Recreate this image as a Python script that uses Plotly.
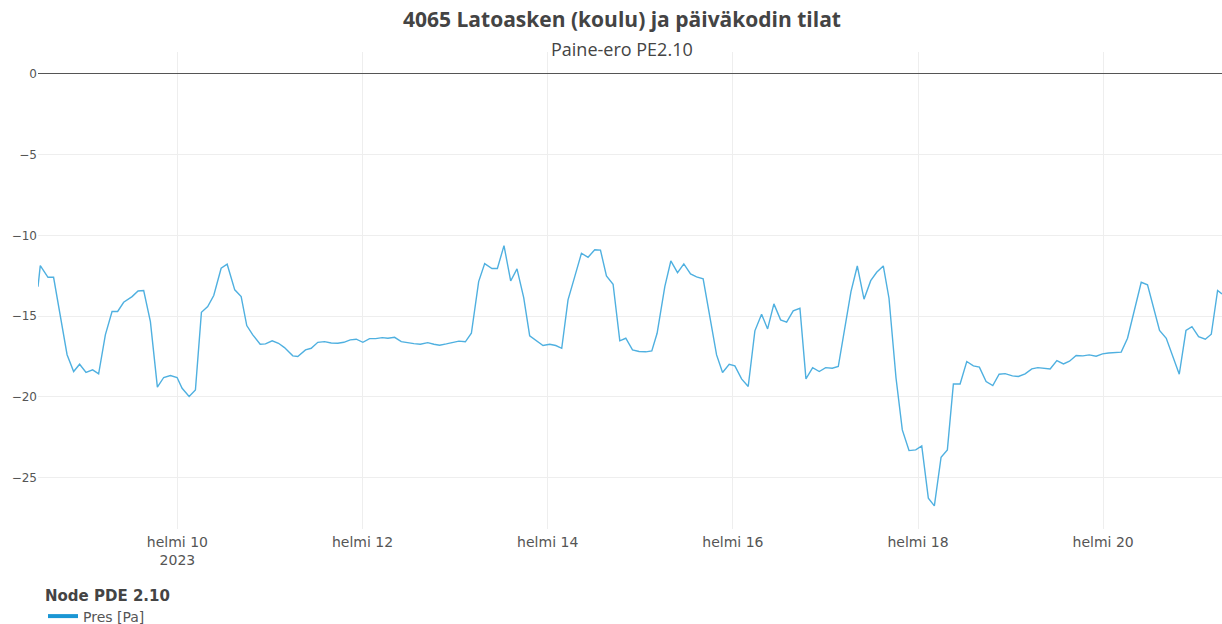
import pandas as pd
import plotly.graph_objects as go

# hours since 2023-02-08 00:00
hours = [11.86, 12.45, 14.45, 15.9, 19.4, 21.1, 22.65, 24.31, 26.02, 27.58, 29.32, 31.06, 32.51, 34.07, 36.25,
         37.8, 39.26, 41.0, 42.81, 44.45, 46.18, 47.92, 49.22, 51.04, 52.67, 54.23, 55.86, 57.42, 59.34, 60.9,
         62.87, 64.53, 65.98, 67.54, 69.46, 70.83, 72.57, 74.21, 75.76, 77.92, 79.21, 81.21, 82.69, 84.4, 86.14,
         87.88, 89.59, 91.15, 92.81, 94.37, 96.08, 97.82, 99.38, 101.11, 102.57, 104.31, 106.04, 107.76, 109.31,
         110.97, 112.9, 114.5, 115.98, 117.72, 119.43, 120.99, 122.65, 124.21, 126.1, 127.66, 129.55, 130.95,
         132.67, 134.4, 136.04, 137.78, 139.33, 141.07, 142.78, 144.52, 146.08, 147.64, 149.27, 151.01, 152.75,
         154.46, 156.2, 157.68, 159.23, 160.95, 162.69, 164.24, 165.98, 167.69, 169.43, 170.99, 172.36, 174.36,
         175.92, 177.66, 179.29, 181.03, 182.59, 184.3, 185.86, 187.78, 189.33, 191.05, 192.52, 194.26, 195.98,
         197.71, 199.45, 201.01, 202.64, 204.38, 205.94, 207.65, 209.39, 210.95, 212.69, 214.4, 216.06, 217.77,
         219.33, 221.07, 222.62, 224.26, 226.0, 227.74, 229.29, 231.0, 232.48, 234.3, 235.93, 237.67, 239.41,
         240.97, 242.68, 244.24, 245.98, 247.61, 249.17, 250.91, 252.64, 254.36, 255.91, 257.65, 259.39, 261.03,
         262.58, 264.48, 266.03, 267.77, 269.51, 271.07, 272.78, 274.26, 276.0, 277.71, 279.27, 281.0, 282.74,
         284.38, 286.19, 287.83, 289.39, 291.12, 292.68, 294.32, 296.13, 297.87, 299.5, 301.06, 302.62, 304.36,
         305.99, 307.73, 309.47, 311.02, 312.74, 314.48, 316.03, 317.67, 318.81]

pres = [-13.18, -11.88, -12.6, -12.6, -17.4, -18.44, -17.99, -18.5, -18.34, -18.59, -16.17, -14.72, -14.72,
        -14.15, -13.8, -13.45, -13.42, -15.35, -19.41, -18.81, -18.69, -18.81, -19.48, -19.99, -19.58, -14.77,
        -14.42, -13.73, -12.04, -11.79, -13.38, -13.8, -15.59, -16.17, -16.75, -16.73, -16.54, -16.69, -16.96,
        -17.47, -17.51, -17.1, -17.0, -16.63, -16.59, -16.67, -16.69, -16.63, -16.48, -16.44, -16.63, -16.4,
        -16.4, -16.34, -16.38, -16.32, -16.59, -16.67, -16.71, -16.75, -16.65, -16.75, -16.81, -16.73, -16.63,
        -16.56, -16.6, -16.07, -12.87, -11.75, -12.06, -12.06, -10.64, -12.83, -12.08, -13.86, -16.23, -16.54,
        -16.83, -16.75, -16.83, -17.0, -14.0, -12.56, -11.11, -11.36, -10.9, -10.92, -12.52, -13.03, -16.54,
        -16.38, -17.1, -17.2, -17.22, -17.16, -16.07, -13.18, -11.59, -12.31, -11.77, -12.39, -12.58, -12.7,
        -14.93, -17.41, -18.5, -17.99, -18.09, -18.9, -19.37, -15.92, -14.89, -15.8, -14.25, -15.24, -15.38,
        -14.68, -14.52, -18.9, -18.2, -18.44, -18.2, -18.24, -18.13, -15.55, -13.49, -11.9, -13.96, -12.81,
        -12.29, -11.9, -13.9, -18.84, -22.06, -23.34, -23.3, -23.05, -26.29, -26.77, -23.75, -23.3, -19.21,
        -19.21, -17.82, -18.09, -18.17, -19.06, -19.31, -18.61, -18.57, -18.71, -18.75, -18.59, -18.28, -18.2,
        -18.26, -18.28, -17.76, -17.97, -17.8, -17.45, -17.47, -17.41, -17.49, -17.35, -17.29, -17.27, -17.24,
        -16.38, -14.52, -12.91, -13.07, -14.52, -15.9, -16.38, -17.51, -18.61, -15.9, -15.66, -16.28, -16.44,
        -16.13, -13.42, -13.63]

tick_dates = ["2023-02-10", "2023-02-12", "2023-02-14", "2023-02-16", "2023-02-18", "2023-02-20"]
tick_labels = ["helmi 10<br>2023", "helmi 12", "helmi 14", "helmi 16", "helmi 18", "helmi 20"]
y_ticks = [0, -5, -10, -15, -20, -25]

title_text = "4065 Latoasken (koulu) ja päiväkodin tilat"
subtitle_text = "Paine-ero PE2.10"
legend_title = "Node PDE 2.10"
series_name = "Pres [Pa]"

start = pd.Timestamp("2023-02-08 00:00")
times = [start + pd.Timedelta(hours=h) for h in hours]

LINE = "#4fb0e0"
fig = go.Figure()
fig.add_trace(go.Scatter(x=times, y=pres, mode="lines", name=series_name,
                         line=dict(color=LINE, width=1.4), showlegend=False,
                         legendgroup="p"))
fig.add_trace(go.Scatter(x=[None], y=[None], mode="lines", name=series_name,
                         line=dict(color="#1a96d4", width=4), legendgroup="p",
                         showlegend=True))

fig.update_layout(
    width=1222, height=624,
    margin=dict(l=38, r=0, t=52, b=95, autoexpand=False),
    paper_bgcolor="white", plot_bgcolor="white",
    font=dict(family="DejaVu Sans", size=12, color="#555"),
    title=dict(text="<b>" + title_text + "</b>", x=622 / 1222, xref="container", xanchor="center",
               y=1 - 20 / 624, yref="container", yanchor="middle",
               font=dict(family="Open Sans", size=21, color="#444")),
    annotations=[dict(text=subtitle_text, xref="paper", yref="paper",
                      x=(622 - 38) / (1222 - 38), y=1 + (52 - 49) / 477,
                      xanchor="center", yanchor="middle", showarrow=False,
                      font=dict(family="Open Sans", size=18, color="#444"))],
    xaxis=dict(range=[times[0], times[-1]], tickvals=tick_dates, ticktext=tick_labels,
               showgrid=True, gridcolor="#eeeeee", gridwidth=1, zeroline=False,
               showline=False, ticks="", ticklabelstandoff=3,
               tickfont=dict(family="DejaVu Sans", size=14, color="#555")),
    yaxis=dict(range=[-28.2, 1.36], tickvals=y_ticks, showgrid=True, gridcolor="#eeeeee",
               zeroline=True, zerolinecolor="#555", zerolinewidth=1.3, showline=False, ticks="",
               tickfont=dict(family="DejaVu Sans", size=12, color="#555")),
    legend=dict(orientation="h", x=5 / 1222 + 38 / 1222, xref="container", xanchor="left",
                y=1 - 581 / 624, yref="container", yanchor="top",
                title=dict(text="<b>" + legend_title + "</b>", side="top",
                           font=dict(family="DejaVu Sans", size=15, color="#444")),
                font=dict(family="DejaVu Sans", size=14, color="#555"),
                itemwidth=30),
)

fig.write_html("out.html")
